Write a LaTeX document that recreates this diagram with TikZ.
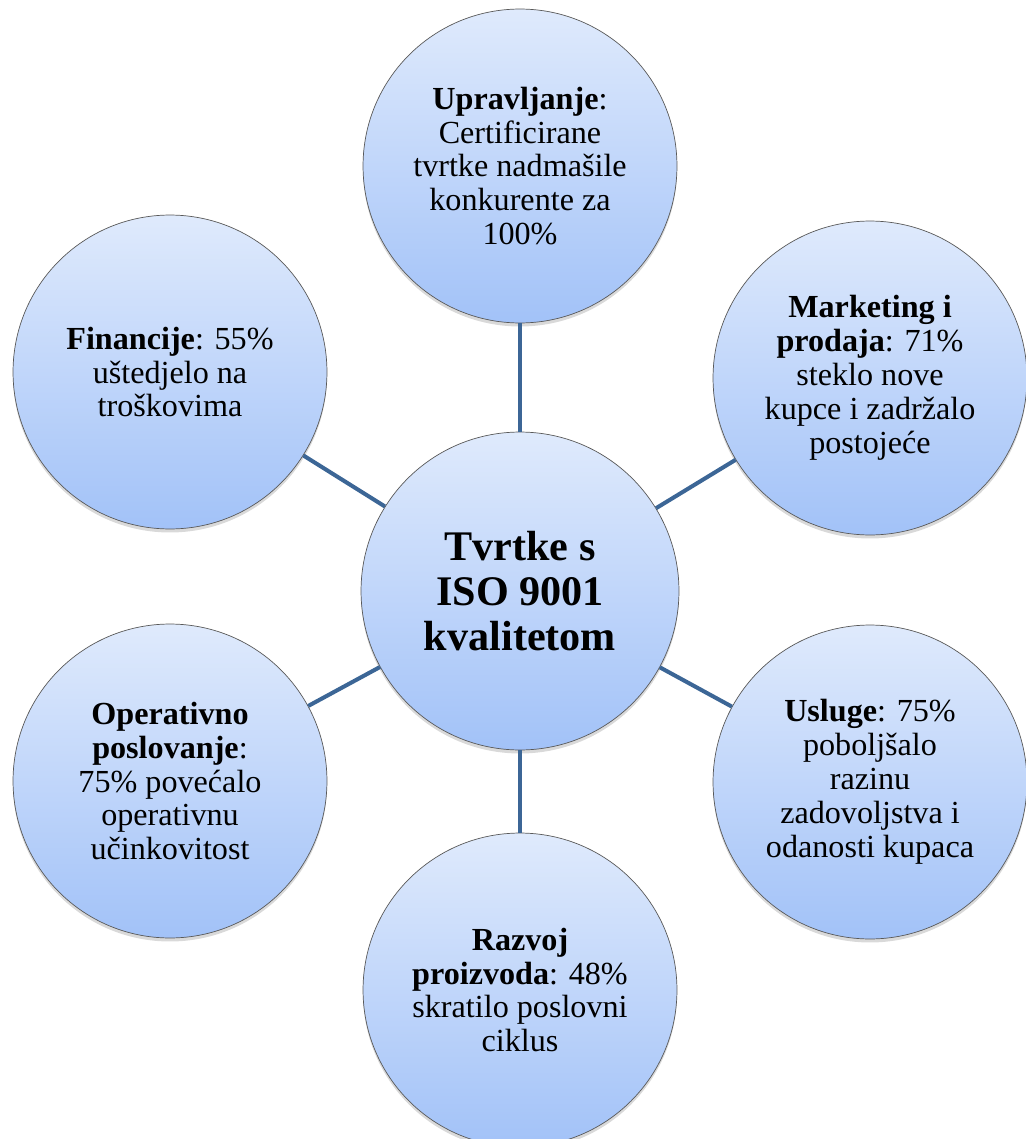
\documentclass[tikz,border=0pt]{standalone}
\usepackage{fontspec}
\setmainfont{Liberation Serif}
\usepackage{tikz}
\usetikzlibrary{shadows}

\definecolor{linkblue}{RGB}{60,102,150}
\definecolor{bubtop}{RGB}{223,234,252}
\definecolor{bubbot}{RGB}{162,194,248}

\begin{document}
\begin{tikzpicture}[x=0.02cm,y=-0.02cm]
        \tikzstyle{bubble} = [circle,draw=black!65,thin,inner sep=0pt,
          top color=bubtop,bottom color=bubbot,minimum size=6.28cm,
          align=center,font=\fontsize{18.3}{19.3}\selectfont,
          drop shadow={opacity=0.3,shadow xshift=0pt,shadow yshift=-2pt}]
        \tikzstyle{link} = [draw=linkblue,line width=2.3pt]
        \useasboundingbox (0,0) rectangle (1025,1139);

        \node[bubble,minimum size=6.36cm,font=\fontsize{24}{25.5}\selectfont\bfseries]
          (hub) at (520,591) {Tvrtke s\\ISO 9001\\kvalitetom};

        \node[bubble] (upr) at (520,166)
          {\textbf{Upravljanje}:\\Certificirane\\tvrtke nadmašile\\konkurente za\\100\%};
        \node[bubble] (fin) at (170,372)
          {\textbf{Financije}: 55\%\\uštedjelo na\\troškovima};
        \node[bubble] (mkt) at (870,378)
          {\textbf{Marketing i}\\\textbf{prodaja}: 71\%\\steklo nove\\kupce i zadržalo\\postojeće};
        \node[bubble] (opr) at (170,781)
          {\textbf{Operativno}\\\textbf{poslovanje}:\\75\% povećalo\\operativnu\\učinkovitost};
        \node[bubble] (usl) at (870,782)
          {\textbf{Usluge}: 75\%\\poboljšalo\\razinu\\zadovoljstva i\\odanosti kupaca};
        \node[bubble] (raz) at (520,990)
          {\textbf{Razvoj}\\\textbf{proizvoda}: 48\%\\skratilo poslovni\\ciklus};

        \foreach \b in {upr, fin, mkt, opr, usl, raz} {
          \draw[link] (hub) -- (\b);
        }
\end{tikzpicture}
\end{document}
